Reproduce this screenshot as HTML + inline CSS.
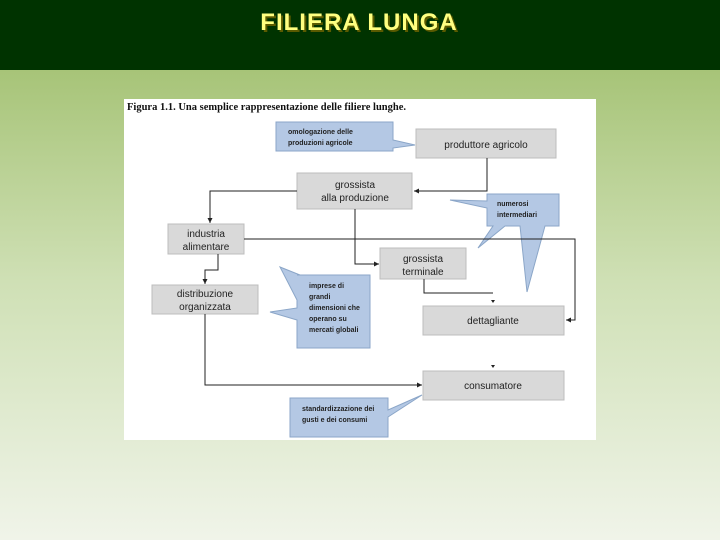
<!DOCTYPE html>
<html><head><meta charset="utf-8"><style>
html,body{margin:0;padding:0;width:720px;height:540px;overflow:hidden}
body{background:linear-gradient(#a8c47a 70px,#cfe0b4 300px,#eef3e6 540px)}
</style></head><body>
<svg width="720" height="540" viewBox="0 0 720 540" xmlns="http://www.w3.org/2000/svg" style="position:absolute;left:0;top:0">
<defs>
<linearGradient id="bg" x1="0" y1="0" x2="0" y2="1">
<stop offset="0" stop-color="#a7c478"/><stop offset="0.45" stop-color="#cfe0b5"/><stop offset="1" stop-color="#f0f4e9"/>
</linearGradient>
<marker id="a" markerWidth="6" markerHeight="6" refX="5" refY="3" orient="auto"><path d="M0,0.5 L5,3 L0,5.5z" fill="#222"/></marker>
</defs>
<rect x="0" y="70" width="720" height="470" fill="url(#bg)"/>
<rect x="0" y="0" width="720" height="70" fill="#003300"/>
<text x="361" y="32" text-anchor="middle" font-family="Liberation Sans, sans-serif" font-weight="bold" font-size="24" fill="#5a5a00" letter-spacing="1">FILIERA LUNGA</text>
<text x="359" y="30" text-anchor="middle" font-family="Liberation Sans, sans-serif" font-weight="bold" font-size="24" fill="#ffff80" letter-spacing="1">FILIERA LUNGA</text>
<rect x="124" y="99" width="472" height="341" fill="#fff"/>
<text x="127" y="110" font-family="Liberation Serif, serif" font-weight="bold" font-size="10.5" fill="#111">Figura 1.1. Una semplice rappresentazione delle filiere lunghe.</text>
<g font-family="Liberation Sans, sans-serif" fill="#222">
<!-- callouts -->
<g fill="#b4c8e4" stroke="#8ba6c8" stroke-width="1">
<path d="M276,122 H393 V140 L415,145 L393,148 V151 H276 Z"/>
<path d="M487,194 H559 V226 H545 L527,292 L520,226 H505 L478,248 L493,226 H487 V208 L450,200 L487,201 Z"/>
<path d="M297,275 H370 V348 H297 V320 L270,312 L297,308 V300 L280,267 L300,275 Z"/>
<path d="M290,398 H388 V410 L422,395 L388,417 V437 H290 Z"/>
</g>
<!-- boxes -->
<g fill="#d9d9d9" stroke="#bdbdbd" stroke-width="1">
<rect x="416" y="129" width="140" height="29"/>
<rect x="297" y="173" width="115" height="36"/>
<rect x="168" y="224" width="76" height="30"/>
<rect x="380" y="248" width="86" height="31"/>
<rect x="152" y="285" width="106" height="29"/>
<rect x="423" y="306" width="141" height="29"/>
<rect x="423" y="371" width="141" height="29"/>
</g>
<!-- lines -->
<g fill="none" stroke="#222" stroke-width="1">
<path d="M487,158 V191 H414" marker-end="url(#a)"/>
<path d="M297,191 H210 V223" marker-end="url(#a)"/>
<path d="M355,209 V264 H379" marker-end="url(#a)"/>
<path d="M244,239 H575 V320 H566" marker-end="url(#a)"/>
<path d="M218,254 V270 H205 V284" marker-end="url(#a)"/>
<path d="M205,314 V385 H422" marker-end="url(#a)"/>
<path d="M424,279 V293 H493"/>
</g>
<path d="M491,300 h4 l-2,3z M491,365 h4 l-2,3z" fill="#222"/>
<g font-size="7" font-weight="bold" fill="#222">
<text x="288" y="134">omologazione delle</text>
<text x="288" y="145">produzioni agricole</text>
<text x="497" y="206">numerosi</text>
<text x="497" y="217">intermediari</text>
<text x="309" y="288">imprese di</text>
<text x="309" y="299">grandi</text>
<text x="309" y="310">dimensioni che</text>
<text x="309" y="321">operano su</text>
<text x="309" y="332">mercati globali</text>
<text x="302" y="411">standardizzazione dei</text>
<text x="302" y="422">gusti e dei consumi</text>
</g>
<g font-size="10" text-anchor="middle">
<text x="486" y="148">produttore agricolo</text>
<text x="355" y="188">grossista</text>
<text x="355" y="201">alla produzione</text>
<text x="206" y="237">industria</text>
<text x="206" y="250">alimentare</text>
<text x="423" y="262">grossista</text>
<text x="423" y="275">terminale</text>
<text x="205" y="297">distribuzione</text>
<text x="205" y="310">organizzata</text>
<text x="493" y="324">dettagliante</text>
<text x="493" y="389">consumatore</text>
</g>
</g>
</svg>
</body></html>
